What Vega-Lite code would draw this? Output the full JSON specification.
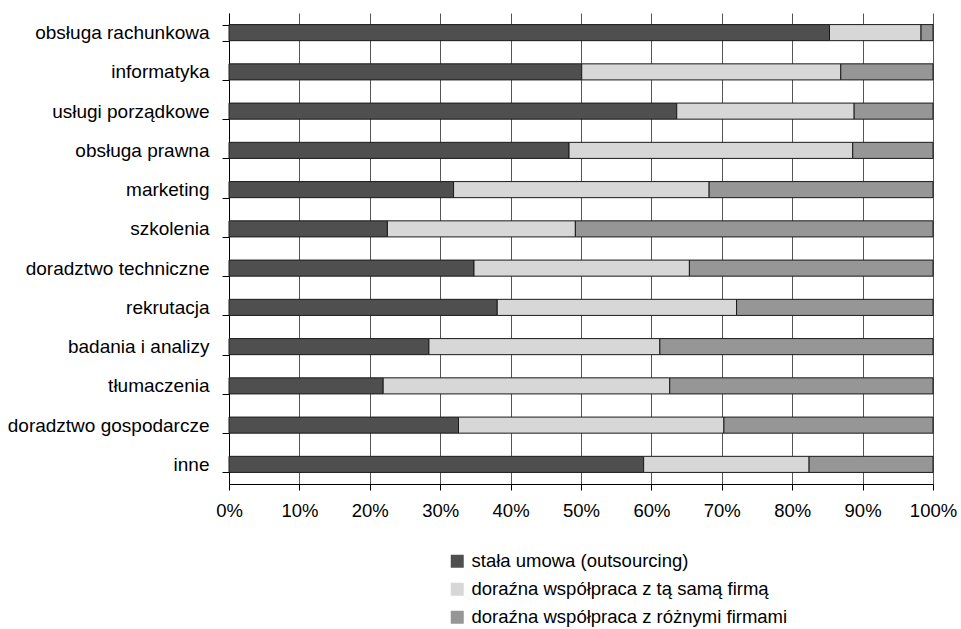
{
  "$schema": "https://vega.github.io/schema/vega-lite/v6.json",
  "width": 704,
  "height": 471,
  "autosize": {"type": "none"},
  "padding": {"left": 229, "top": 13, "right": 28, "bottom": 145},
  "background": "white",
  "config": {
    "view": {"stroke": null},
    "font": "Liberation Sans"
  },
  "data": {
    "values": [
      {"kategoria": "obsługa rachunkowa", "typ": "stała umowa (outsourcing)", "o": 1, "wartosc": 85.3},
      {"kategoria": "obsługa rachunkowa", "typ": "doraźna współpraca z tą samą firmą", "o": 2, "wartosc": 13.0},
      {"kategoria": "obsługa rachunkowa", "typ": "doraźna współpraca z różnymi firmami", "o": 3, "wartosc": 1.7},
      {"kategoria": "informatyka", "typ": "stała umowa (outsourcing)", "o": 1, "wartosc": 50.1},
      {"kategoria": "informatyka", "typ": "doraźna współpraca z tą samą firmą", "o": 2, "wartosc": 36.8},
      {"kategoria": "informatyka", "typ": "doraźna współpraca z różnymi firmami", "o": 3, "wartosc": 13.1},
      {"kategoria": "usługi porządkowe", "typ": "stała umowa (outsourcing)", "o": 1, "wartosc": 63.6},
      {"kategoria": "usługi porządkowe", "typ": "doraźna współpraca z tą samą firmą", "o": 2, "wartosc": 25.2},
      {"kategoria": "usługi porządkowe", "typ": "doraźna współpraca z różnymi firmami", "o": 3, "wartosc": 11.2},
      {"kategoria": "obsługa prawna", "typ": "stała umowa (outsourcing)", "o": 1, "wartosc": 48.3},
      {"kategoria": "obsługa prawna", "typ": "doraźna współpraca z tą samą firmą", "o": 2, "wartosc": 40.3},
      {"kategoria": "obsługa prawna", "typ": "doraźna współpraca z różnymi firmami", "o": 3, "wartosc": 11.4},
      {"kategoria": "marketing", "typ": "stała umowa (outsourcing)", "o": 1, "wartosc": 31.9},
      {"kategoria": "marketing", "typ": "doraźna współpraca z tą samą firmą", "o": 2, "wartosc": 36.3},
      {"kategoria": "marketing", "typ": "doraźna współpraca z różnymi firmami", "o": 3, "wartosc": 31.8},
      {"kategoria": "szkolenia", "typ": "stała umowa (outsourcing)", "o": 1, "wartosc": 22.5},
      {"kategoria": "szkolenia", "typ": "doraźna współpraca z tą samą firmą", "o": 2, "wartosc": 26.7},
      {"kategoria": "szkolenia", "typ": "doraźna współpraca z różnymi firmami", "o": 3, "wartosc": 50.8},
      {"kategoria": "doradztwo techniczne", "typ": "stała umowa (outsourcing)", "o": 1, "wartosc": 34.8},
      {"kategoria": "doradztwo techniczne", "typ": "doraźna współpraca z tą samą firmą", "o": 2, "wartosc": 30.6},
      {"kategoria": "doradztwo techniczne", "typ": "doraźna współpraca z różnymi firmami", "o": 3, "wartosc": 34.6},
      {"kategoria": "rekrutacja", "typ": "stała umowa (outsourcing)", "o": 1, "wartosc": 38.1},
      {"kategoria": "rekrutacja", "typ": "doraźna współpraca z tą samą firmą", "o": 2, "wartosc": 34.0},
      {"kategoria": "rekrutacja", "typ": "doraźna współpraca z różnymi firmami", "o": 3, "wartosc": 27.9},
      {"kategoria": "badania i analizy", "typ": "stała umowa (outsourcing)", "o": 1, "wartosc": 28.4},
      {"kategoria": "badania i analizy", "typ": "doraźna współpraca z tą samą firmą", "o": 2, "wartosc": 32.8},
      {"kategoria": "badania i analizy", "typ": "doraźna współpraca z różnymi firmami", "o": 3, "wartosc": 38.8},
      {"kategoria": "tłumaczenia", "typ": "stała umowa (outsourcing)", "o": 1, "wartosc": 21.9},
      {"kategoria": "tłumaczenia", "typ": "doraźna współpraca z tą samą firmą", "o": 2, "wartosc": 40.7},
      {"kategoria": "tłumaczenia", "typ": "doraźna współpraca z różnymi firmami", "o": 3, "wartosc": 37.4},
      {"kategoria": "doradztwo gospodarcze", "typ": "stała umowa (outsourcing)", "o": 1, "wartosc": 32.6},
      {"kategoria": "doradztwo gospodarcze", "typ": "doraźna współpraca z tą samą firmą", "o": 2, "wartosc": 37.7},
      {"kategoria": "doradztwo gospodarcze", "typ": "doraźna współpraca z różnymi firmami", "o": 3, "wartosc": 29.7},
      {"kategoria": "inne", "typ": "stała umowa (outsourcing)", "o": 1, "wartosc": 58.9},
      {"kategoria": "inne", "typ": "doraźna współpraca z tą samą firmą", "o": 2, "wartosc": 23.5},
      {"kategoria": "inne", "typ": "doraźna współpraca z różnymi firmami", "o": 3, "wartosc": 17.6}
    ]
  },
  "mark": {"type": "bar", "stroke": "#1a1a1a", "strokeWidth": 1},
  "encoding": {
    "y": {
      "field": "kategoria",
      "type": "nominal",
      "sort": null,
      "scale": {"paddingInner": 0.59, "paddingOuter": 0.295},
      "axis": {
        "title": null,
        "grid": false,
        "tickBand": "extent",
        "domainColor": "#000000",
        "tickColor": "#000000",
        "tickSize": 7,
        "labelPadding": 13,
        "labelFont": "Liberation Sans",
        "labelFontSize": 19,
        "labelColor": "#000000",
        "labelLimit": 400
      }
    },
    "x": {
      "field": "wartosc",
      "type": "quantitative",
      "stack": "normalize",
      "scale": {"domain": [0, 1], "nice": false},
      "axis": {
        "title": null,
        "values": [0, 0.1, 0.2, 0.3, 0.4, 0.5, 0.6, 0.7, 0.8, 0.9, 1],
        "format": ".0%",
        "grid": true,
        "gridColor": "#555555",
        "gridWidth": 1,
        "domainColor": "#000000",
        "tickColor": "#000000",
        "tickSize": 6,
        "labelPadding": 11,
        "labelFlush": false,
        "labelFont": "Liberation Sans",
        "labelFontSize": 18.5,
        "labelColor": "#000000"
      }
    },
    "color": {
      "field": "typ",
      "type": "nominal",
      "scale": {
        "domain": ["stała umowa (outsourcing)", "doraźna współpraca z tą samą firmą", "doraźna współpraca z różnymi firmami"],
        "range": ["#4f4f4f", "#d7d7d7", "#969696"]
      },
      "legend": {
        "title": null,
        "orient": "none",
        "legendX": 219,
        "legendY": 539,
        "direction": "vertical",
        "symbolType": "square",
        "symbolSize": 169,
        "symbolStrokeWidth": 0,
        "labelOffset": 5,
        "rowPadding": 9,
        "padding": 0,
        "symbolOffset": 0,
        "labelFont": "Liberation Sans",
        "labelFontSize": 18.5,
        "labelColor": "#000000",
        "labelLimit": 500
      }
    },
    "order": {"field": "o", "type": "quantitative"}
  }
}
